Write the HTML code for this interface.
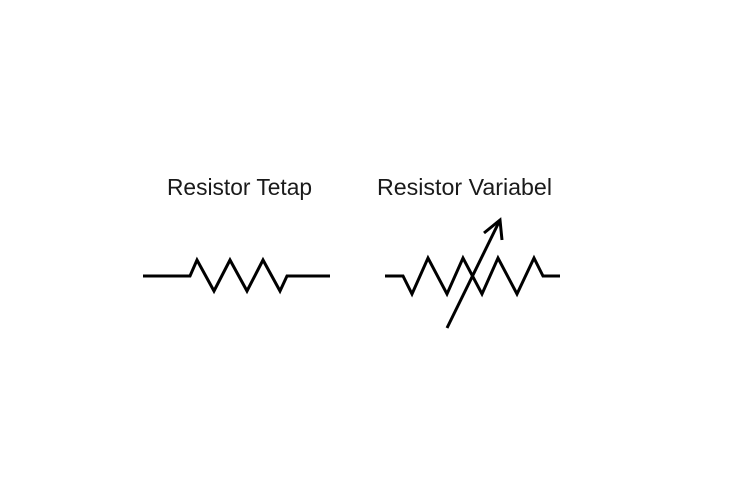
<!DOCTYPE html>
<html><head><meta charset="utf-8"><style>html,body{margin:0;padding:0;background:#fff;}svg{display:block}</style></head>
<body>
<svg width="750" height="500" viewBox="0 0 750 500" xmlns="http://www.w3.org/2000/svg">
<rect width="750" height="500" fill="#fff"/>
<g font-family="'Liberation Sans', sans-serif" font-size="23" fill="#1a1a1a">
<text x="167" y="195" textLength="145" lengthAdjust="spacingAndGlyphs">Resistor Tetap</text>
<text x="377" y="195" textLength="175" lengthAdjust="spacingAndGlyphs">Resistor Variabel</text>
</g>
<g fill="none" stroke="#000" stroke-width="3" stroke-linejoin="miter" stroke-linecap="butt">
<polyline points="143,276 190,276 197,260 214,291 230,260 247,291 263,260 280,291 287,276 330,276"/>
<polyline points="385,276 403,276 412,294 428,258 447,294 463,258 482,294 498,258 517,294 534,258 543,276 560,276"/>
<line x1="447" y1="328" x2="499" y2="222"/>
<polyline points="484,233 500,220 502,240"/>
</g>
</svg>
</body></html>
